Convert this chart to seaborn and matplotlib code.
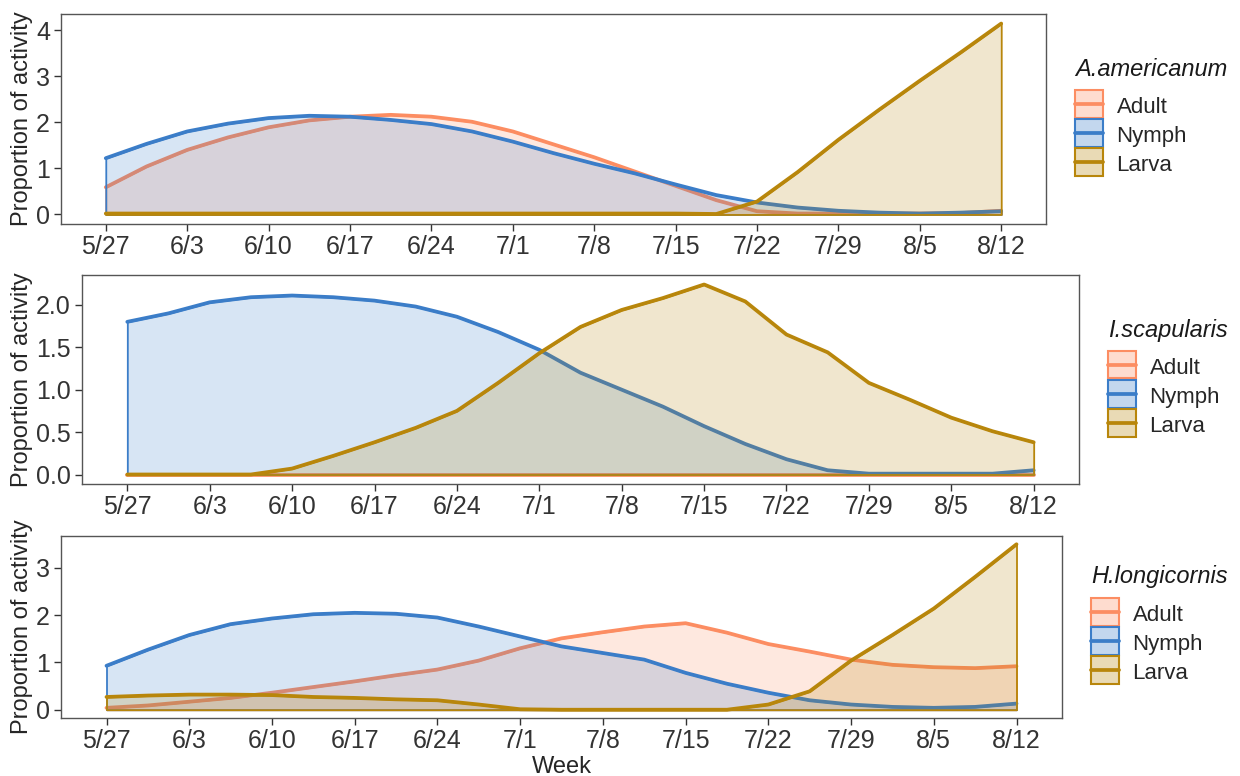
import numpy as np
import pandas as pd
import matplotlib
matplotlib.use("Agg")
import matplotlib.pyplot as plt
import seaborn as sns
from matplotlib.colors import to_rgba
from matplotlib.patches import Patch, Rectangle
from matplotlib.lines import Line2D
from matplotlib.legend_handler import HandlerPatch

# ================== data ==================

# days after 5/27, half-week steps
days = [0, 3.5, 7, 10.5, 14, 17.5, 21, 24.5, 28, 31.5, 35, 38.5,
        42, 45.5, 49, 52.5, 56, 59.5, 63, 66.5, 70, 73.5, 77]
week_ticks = [0, 7, 14, 21, 28, 35, 42, 49, 56, 63, 70, 77]
week_labels = ["5/27", "6/3", "6/10", "6/17", "6/24", "7/1", "7/8",
               "7/15", "7/22", "7/29", "8/5", "8/12"]
stages = ["Adult", "Nymph", "Larva"]
colors = {"Adult": "#FC8D62", "Nymph": "#3B7DC8", "Larva": "#B8860B"}

# A.americanum
am_adult = [0.59, 1.04, 1.40, 1.67, 1.89, 2.04, 2.12, 2.16, 2.12, 2.01, 1.80, 1.52,
            1.24, 0.93, 0.62, 0.31, 0.07, 0.02, 0.02, 0.02, 0.02, 0.03, 0.08]
am_nymph = [1.22, 1.53, 1.80, 1.97, 2.09, 2.14, 2.12, 2.05, 1.96, 1.80, 1.58, 1.33,
            1.10, 0.89, 0.65, 0.42, 0.26, 0.15, 0.08, 0.04, 0.02, 0.04, 0.07]
am_larva = [0.02, 0.02, 0.02, 0.02, 0.02, 0.02, 0.02, 0.02, 0.02, 0.02, 0.02, 0.02,
            0.02, 0.02, 0.02, 0.01, 0.28, 0.92, 1.62, 2.27, 2.90, 3.51, 4.14]

# I.scapularis
is_adult = [0.0] * 23
is_nymph = [1.80, 1.90, 2.03, 2.09, 2.11, 2.09, 2.05, 1.98, 1.86, 1.68, 1.47, 1.20,
            1.00, 0.80, 0.57, 0.36, 0.18, 0.05, 0.01, 0.01, 0.01, 0.01, 0.05]
is_larva = [0.0, 0.0, 0.0, 0.0, 0.07, 0.22, 0.38, 0.55, 0.75, 1.08, 1.43, 1.74,
            1.94, 2.08, 2.24, 2.04, 1.65, 1.44, 1.08, 0.88, 0.67, 0.51, 0.38]

# H.longicornis
hl_adult = [0.04, 0.09, 0.17, 0.25, 0.36, 0.48, 0.60, 0.73, 0.85, 1.04, 1.30, 1.51,
            1.64, 1.76, 1.83, 1.63, 1.39, 1.23, 1.06, 0.95, 0.90, 0.88, 0.92]
hl_nymph = [0.93, 1.27, 1.58, 1.81, 1.93, 2.02, 2.05, 2.03, 1.95, 1.76, 1.55, 1.34,
            1.20, 1.06, 0.78, 0.55, 0.36, 0.20, 0.11, 0.06, 0.04, 0.06, 0.13]
hl_larva = [0.27, 0.30, 0.32, 0.32, 0.31, 0.27, 0.25, 0.22, 0.20, 0.11, 0.01, 0.0,
            0.0, 0.0, 0.0, 0.0, 0.11, 0.39, 1.04, 1.58, 2.14, 2.81, 3.50]

panels = [
    # name, series, box (left, right, top, bottom px), yticks, format, legend (x, title y, keys top)
    ("A.americanum", [am_adult, am_nymph, am_larva], (61, 1046, 14, 224),
     [0, 1, 2, 3, 4], "{:.0f}", (1075, 69, 94)),
    ("I.scapularis", [is_adult, is_nymph, is_larva], (82, 1079, 275, 484),
     [0.0, 0.5, 1.0, 1.5, 2.0], "{:.1f}", (1108, 330, 355)),
    ("H.longicornis", [hl_adult, hl_nymph, hl_larva], (61, 1062, 536, 718),
     [0, 1, 2, 3], "{:.0f}", (1091, 577, 602)),
]


def full_key(legend, orig_handle, xdescent, ydescent, width, height, fontsize):
    # legend key box filling the whole handle area
    return Rectangle((-xdescent, -ydescent), width, height + ydescent)


# ================== plot ==================

sns.set_style("white")
plt.rcParams["font.family"] = ["Liberation Sans", "DejaVu Sans"]

W, H = 1240, 776
fig = plt.figure(figsize=(W / 100, H / 100), dpi=100)

for i, (name, series, box, yticks, yfmt, leg) in enumerate(panels):
    l, r, t, b = box
    ax = fig.add_axes([l / W, 1 - b / H, (r - l) / W, (b - t) / H])

    df = pd.DataFrame({
        "Week": days * 3,
        "Proportion": series[0] + series[1] + series[2],
        "Stage": np.repeat(stages, len(days)),
    })

    for k, st in enumerate(stages):
        sub = df[df["Stage"] == st]
        c = colors[st]
        ax.fill_between(sub["Week"], sub["Proportion"], facecolor=to_rgba(c, 0.2),
                        edgecolor=c, linewidth=1.3, zorder=2 + 2 * k)
        sns.lineplot(data=sub, x="Week", y="Proportion", color=c, linewidth=2.7,
                     ax=ax, legend=False, errorbar=None, zorder=3 + 2 * k)

    ymax = df["Proportion"].max()
    ax.set_xlim(-0.05 * 77, 77 * 1.05)
    ax.set_ylim(-0.05 * ymax, ymax * 1.05)
    ax.set_xticks(week_ticks)
    ax.set_xticklabels(week_labels)
    ax.set_yticks(yticks)
    ax.set_yticklabels([yfmt.format(v) for v in yticks])
    ax.tick_params(axis="both", bottom=True, left=True, direction="out", length=5,
                   width=1, color="#333333", labelsize=18, labelcolor="#333333", pad=3)
    for sp in ax.spines.values():
        sp.set_color("#555555")
        sp.set_linewidth(1.0)
    ax.set_ylabel("Proportion of activity", fontsize=17)
    # y title at the same page position in every panel (coords = its right edge)
    ax.yaxis.set_label_coords((33 - l) / (r - l), 0.5)
    if i == 2:
        ax.set_xlabel("Week", fontsize=17, labelpad=2)
    else:
        ax.set_xlabel("")

    # legend: italic species title, then keys
    fig.text(leg[0] / W, 1 - leg[1] / H, name, fontsize=17, style="italic",
             ha="left", va="center", color="#1a1a1a")
    handles = [(Patch(facecolor=to_rgba(colors[st], 0.3), edgecolor=colors[st], linewidth=1.5),
                Line2D([], [], color=colors[st], linewidth=2.7)) for st in stages]
    fig.legend(handles, stages, loc="upper left",
               bbox_to_anchor=(leg[0] / W, 1 - leg[2] / H), frameon=False,
               fontsize=16, handlelength=1.27, handleheight=1.25, labelspacing=0.22,
               handletextpad=0.6, borderpad=0, borderaxespad=0,
               handler_map={Patch: HandlerPatch(patch_func=full_key)})

fig.savefig("out.png", dpi=100)
